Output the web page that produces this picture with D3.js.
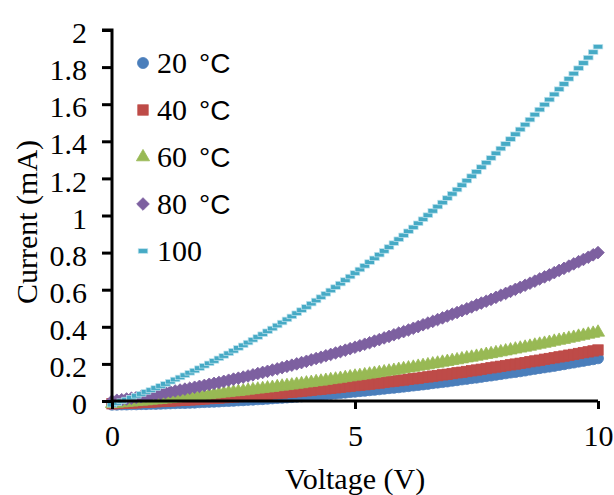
<!DOCTYPE html>
<html>
<head>
<meta charset="utf-8">
<script src="https://cdn.jsdelivr.net/npm/d3@7"></script>
<style>
html,body{margin:0;padding:0;background:#fff;}
svg{display:block;}
.serif{font-family:"Liberation Serif";}
.sans{font-family:"Liberation Sans";}
</style>
</head>
<body>
<svg id="chart" width="614" height="495"></svg>
<script>
// ---- data ----
const voltage = [0,0.1,0.2,0.3,0.4,0.5,0.6,0.7,0.8,0.9,1,1.1,1.2,1.3,1.4,1.5,1.6,1.7,1.8,1.9,2,2.1,2.2,2.3,2.4,2.5,2.6,2.7,2.8,2.9,3,3.1,3.2,3.3,3.4,3.5,3.6,3.7,3.8,3.9,4,4.1,4.2,4.3,4.4,4.5,4.6,4.7,4.8,4.9,5,5.1,5.2,5.3,5.4,5.5,5.6,5.7,5.8,5.9,6,6.1,6.2,6.3,6.4,6.5,6.6,6.7,6.8,6.9,7,7.1,7.2,7.3,7.4,7.5,7.6,7.7,7.8,7.9,8,8.1,8.2,8.3,8.4,8.5,8.6,8.7,8.8,8.9,9,9.1,9.2,9.3,9.4,9.5,9.6,9.7,9.8,9.9,10];

const current20 = [-0.020,-0.020,-0.019,-0.019,-0.018,-0.018,-0.017,-0.017,-0.016,-0.016,-0.015,-0.014,-0.013,-0.012,-0.011,-0.011,-0.010,-0.009,-0.007,-0.006,-0.005,-0.004,-0.003,-0.001,0.000,0.001,0.003,0.004,0.006,0.007,0.009,0.010,0.012,0.014,0.016,0.017,0.019,0.021,0.023,0.025,0.027,0.029,0.031,0.034,0.036,0.038,0.040,0.043,0.045,0.048,0.050,0.053,0.055,0.058,0.060,0.063,0.066,0.069,0.071,0.074,0.077,0.080,0.083,0.086,0.089,0.092,0.096,0.099,0.102,0.105,0.109,0.112,0.116,0.119,0.123,0.126,0.130,0.134,0.137,0.141,0.145,0.149,0.153,0.156,0.160,0.164,0.169,0.173,0.177,0.181,0.185,0.189,0.194,0.198,0.203,0.207,0.212,0.216,0.221,0.225,0.230];

const current40 = [-0.015,-0.014,-0.013,-0.012,-0.011,-0.010,-0.008,-0.007,-0.006,-0.004,-0.003,-0.002,0.000,0.001,0.003,0.004,0.006,0.007,0.009,0.011,0.013,0.014,0.016,0.018,0.020,0.022,0.024,0.026,0.028,0.030,0.032,0.034,0.036,0.039,0.041,0.043,0.046,0.048,0.050,0.053,0.055,0.058,0.061,0.063,0.066,0.068,0.071,0.074,0.077,0.080,0.083,0.085,0.088,0.091,0.094,0.097,0.101,0.104,0.107,0.110,0.113,0.117,0.120,0.123,0.127,0.130,0.134,0.137,0.141,0.144,0.148,0.152,0.155,0.159,0.163,0.167,0.171,0.175,0.179,0.183,0.187,0.191,0.195,0.199,0.203,0.207,0.212,0.216,0.220,0.225,0.229,0.233,0.238,0.242,0.247,0.251,0.256,0.261,0.265,0.270,0.275];

const current60 = [-0.015,-0.013,-0.011,-0.009,-0.007,-0.004,-0.002,0.000,0.003,0.005,0.007,0.010,0.012,0.015,0.017,0.020,0.022,0.025,0.028,0.030,0.033,0.036,0.039,0.042,0.045,0.048,0.050,0.053,0.057,0.060,0.063,0.066,0.069,0.072,0.076,0.079,0.082,0.085,0.089,0.092,0.096,0.099,0.103,0.106,0.110,0.114,0.117,0.121,0.125,0.129,0.133,0.136,0.140,0.144,0.148,0.152,0.156,0.160,0.164,0.169,0.173,0.177,0.181,0.186,0.190,0.194,0.199,0.203,0.208,0.212,0.217,0.221,0.226,0.231,0.235,0.240,0.245,0.250,0.254,0.259,0.264,0.269,0.274,0.279,0.284,0.289,0.294,0.300,0.305,0.310,0.315,0.321,0.326,0.331,0.337,0.342,0.348,0.353,0.359,0.364,0.370];

const current80 = [0.000,0.004,0.007,0.011,0.015,0.019,0.023,0.027,0.032,0.036,0.040,0.045,0.050,0.054,0.059,0.064,0.069,0.074,0.079,0.084,0.090,0.095,0.100,0.106,0.112,0.118,0.123,0.129,0.135,0.141,0.148,0.154,0.160,0.167,0.173,0.180,0.187,0.193,0.200,0.207,0.214,0.222,0.229,0.236,0.244,0.251,0.259,0.266,0.274,0.282,0.290,0.298,0.306,0.314,0.323,0.331,0.340,0.348,0.357,0.366,0.374,0.383,0.392,0.401,0.411,0.420,0.429,0.439,0.448,0.458,0.468,0.477,0.487,0.497,0.507,0.518,0.528,0.538,0.548,0.559,0.570,0.580,0.591,0.602,0.613,0.624,0.635,0.646,0.658,0.669,0.680,0.692,0.704,0.715,0.727,0.739,0.751,0.763,0.775,0.788,0.800];

const current100 = [-0.020,-0.011,-0.001,0.008,0.018,0.028,0.038,0.049,0.059,0.070,0.081,0.092,0.104,0.116,0.127,0.139,0.152,0.164,0.177,0.190,0.203,0.216,0.230,0.243,0.257,0.271,0.286,0.300,0.315,0.330,0.345,0.360,0.376,0.391,0.407,0.423,0.440,0.456,0.473,0.490,0.507,0.525,0.542,0.560,0.578,0.596,0.614,0.633,0.652,0.671,0.690,0.709,0.729,0.749,0.769,0.789,0.809,0.830,0.851,0.872,0.893,0.915,0.936,0.958,0.980,1.002,1.025,1.048,1.070,1.094,1.117,1.140,1.164,1.188,1.212,1.236,1.261,1.285,1.310,1.335,1.361,1.386,1.412,1.438,1.464,1.490,1.517,1.544,1.571,1.598,1.625,1.653,1.681,1.709,1.737,1.765,1.794,1.822,1.851,1.881,1.910];

const seriesNames = ["20", "40", "60", "80", "100"];
const seriesUnits = ["°C", "°C", "°C", "°C", ""];
const seriesValues = [current20, current40, current60, current80, current100];
const seriesColors = ["#4A7EBB", "#BE4B48", "#98B954", "#7D60A0", "#46AAC5"];
const seriesShapes = ["circle", "square", "triangle", "diamond", "dash"];

const xTicks = [0, 5, 10];
const yTicks = [0, 0.2, 0.4, 0.6, 0.8, 1, 1.2, 1.4, 1.6, 1.8, 2];
const xTitle = "Voltage (V)";
const yTitle = "Current (mA)";

// ---- layout ----
const svg = d3.select("#chart");
const x = d3.scaleLinear().domain([0, 10]).range([112, 598]);
const y = d3.scaleLinear().domain([0, 2]).range([401, 30]);

function drawMarker(g, shape, color) {
  if (shape === "circle") {
    g.append("circle").attr("r", 5.5).attr("fill", color).attr("stroke", color).attr("stroke-width", 0.8);
  } else if (shape === "square") {
    g.append("rect").attr("x", -5.2).attr("y", -5.2).attr("width", 10.4).attr("height", 10.4)
      .attr("fill", color).attr("stroke", color).attr("stroke-width", 0.8);
  } else if (shape === "triangle") {
    g.append("path").attr("d", d3.symbol().type(d3.symbolTriangle).size(75)())
      .attr("fill", color).attr("stroke", color).attr("stroke-width", 0.8);
  } else if (shape === "diamond") {
    g.append("path").attr("d", d3.symbol().type(d3.symbolSquare).size(80)())
      .attr("transform", "rotate(45)")
      .attr("fill", color).attr("stroke", color).attr("stroke-width", 0.8);
  } else if (shape === "dash") {
    g.append("rect").attr("x", -4.8).attr("y", -2.3).attr("width", 9.6).attr("height", 4.6)
      .attr("fill", color).attr("stroke", "#bfe3ee").attr("stroke-width", 0.7);
  }
}

// ---- series ----
seriesValues.forEach((vals, si) => {
  const g = svg.append("g");
  const pts = g.selectAll("g.pt").data(voltage.map((v, i) => [v, vals[i]])).enter()
    .append("g").attr("class", "pt")
    .attr("transform", d => `translate(${x(d[0])},${y(d[1])})`);
  pts.each(function () { drawMarker(d3.select(this), seriesShapes[si], seriesColors[si]); });
});

// ---- axes ----
const yAxis = d3.axisLeft(y).tickValues(yTicks).tickSize(10).tickFormat(d => String(d)).tickPadding(15);
const gy = svg.append("g").attr("transform", `translate(${x(0)},0)`).call(yAxis);
gy.attr("font-family", null).attr("font-size", null);
gy.select(".domain").attr("stroke", "#000").attr("stroke-width", 3).attr("d", `M-10,${y(2)}H0V${y(0)}`);
gy.selectAll(".tick line").attr("stroke", "#000").attr("stroke-width", 3);
gy.selectAll(".tick text").attr("class", "serif").style("font-family", "Liberation Serif").style("font-size", "30px")
  .attr("fill", "#000").attr("dy", "0.42em");

const xAxis = d3.axisBottom(x).tickValues(xTicks).tickSize(8).tickFormat(d => String(d)).tickPadding(10);
const gx = svg.append("g").attr("transform", `translate(0,${y(0)})`).call(xAxis);
gx.attr("font-family", null).attr("font-size", null);
gx.select(".domain").attr("stroke", "#000").attr("stroke-width", 3).attr("d", `M${x(0)},0H${x(10)}`);
gx.selectAll(".tick line").attr("stroke", "#000").attr("stroke-width", 3);
gx.selectAll(".tick text").attr("class", "serif").style("font-family", "Liberation Serif").style("font-size", "30px")
  .attr("fill", "#000").attr("dy", "0.9em");

// ---- titles ----
svg.append("text").attr("x", 355).attr("y", 489).attr("text-anchor", "middle")
  .style("font-family", "Liberation Serif").style("font-size", "30px").attr("fill", "#000").text(xTitle);
svg.append("text").attr("transform", "translate(37,222) rotate(-90)").attr("text-anchor", "middle")
  .style("font-family", "Liberation Serif").style("font-size", "30px").attr("fill", "#000").text(yTitle);

// ---- legend ----
seriesNames.forEach((name, i) => {
  const cy = 63 + 47 * i;
  const g = svg.append("g").attr("transform", `translate(143,${cy})`);
  drawMarker(g, seriesShapes[i], seriesColors[i]);
  const t = svg.append("text").attr("x", 157).attr("y", cy + 10).attr("fill", "#000");
  t.append("tspan").style("font-family", "Liberation Serif").style("font-size", "30px").text(name);
  if (seriesUnits[i]) {
    t.append("tspan").style("font-family", "Liberation Sans").style("font-size", "28px").attr("dx", 12).text(seriesUnits[i]);
  }
});
</script>
</body>
</html>
